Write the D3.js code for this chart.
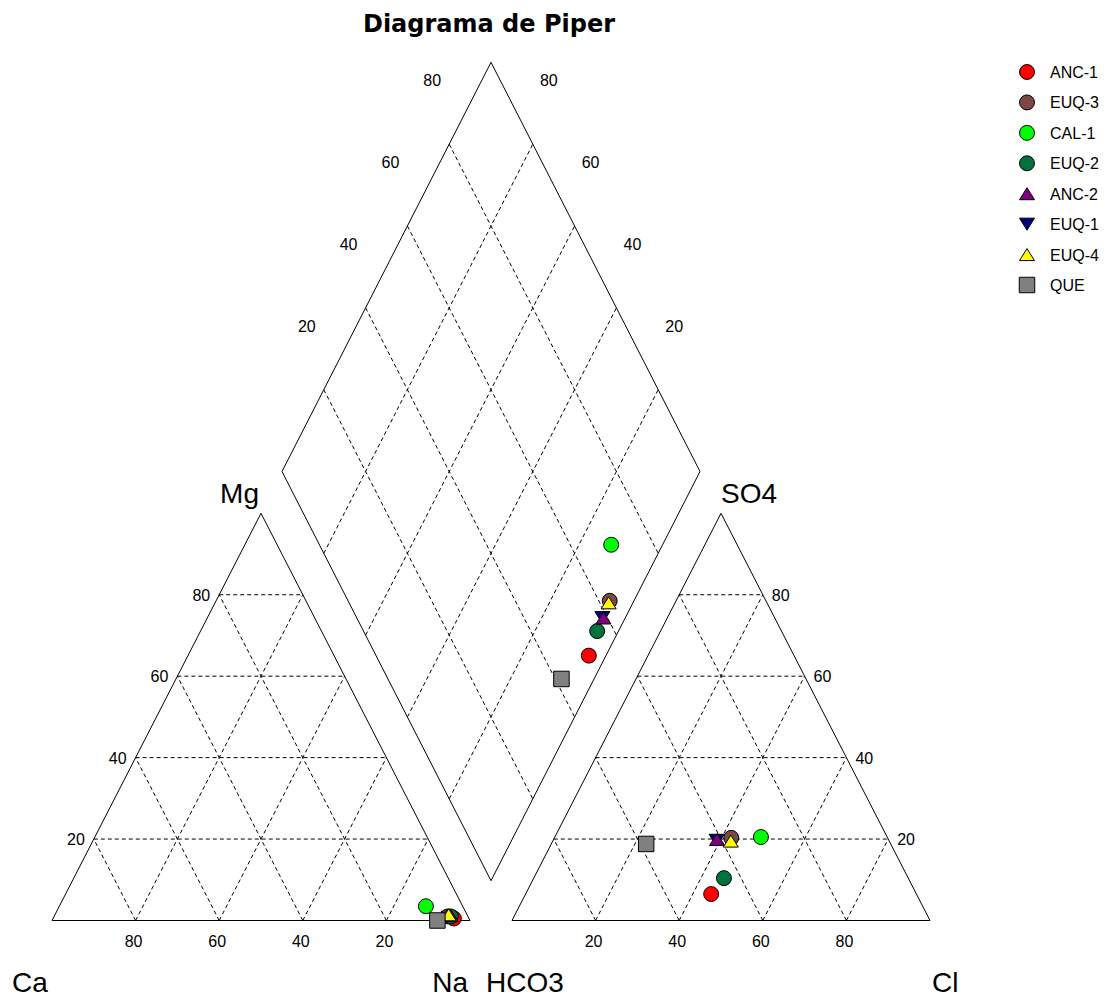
<!DOCTYPE html>
<html><head><meta charset="utf-8">
<script src="https://cdn.jsdelivr.net/npm/d3@7"></script>
<style>
html,body{margin:0;padding:0;background:#fff;}
svg{display:block;}
text{font-family:"Liberation Sans",Arial,sans-serif;fill:#000;}
</style></head><body>
<svg id="chart" width="1119" height="999"></svg>
<script>
// ---------- data (percent of meq) ----------
const samples  = ["ANC-1","EUQ-3","CAL-1","EUQ-2","ANC-2","EUQ-1","EUQ-4","QUE"];
const caPct    = [3.6, 4.8, 8.8, 4.1, 4.0, 4.7, 4.4, 7.8];
const mgPct    = [0.5, 1.0, 3.5, 1.0, 1.2, 0.8, 1.4, 0.0];
const naPct    = [95.9, 94.2, 87.7, 94.9, 94.8, 94.5, 94.2, 92.2];
const hco3Pct  = [49.1, 37.4, 30.2, 44.1, 41.0, 41.2, 37.9, 58.5];
const so4Pct   = [6.5, 20.3, 20.5, 10.4, 19.9, 19.7, 19.5, 18.8];
const clPct    = [44.4, 42.3, 49.3, 45.5, 39.1, 39.1, 42.6, 22.7];
const sampleColors = ["#ff0000","#7b4843","#00ff00","#00723d","#800080","#000080","#ffff00","#808080"];
const sampleShapes = ["circle","circle","circle","circle","triangle","triangleDown","triangle","square"];
const drawOrder = [5, 0, 1, 2, 3, 4, 6, 7];   // EUQ-1 sits underneath the others
const gridTicks = [20, 40, 60, 80];
const cationNames = {ca:"Ca", mg:"Mg", na:"Na"};
const anionNames = {hco3:"HCO3", so4:"SO4", cl:"Cl"};
const chartTitle = "Diagrama de Piper";

// ---------- geometry ----------
const GAP = 0.1005;
const x  = d3.scaleLinear().domain([0, 1]).range([52, 470]);
const y  = d3.scaleLinear().domain([0, 1]).range([920.5, 513.3]);
const yD = d3.scaleLinear().domain([GAP, 2 + GAP]).range([880.7, 62.3]);

function cationPt(ca, mg, na) { const s = ca + mg + na; return [x(na / s + mg / s / 2), y(mg / s)]; }
function anionPt(hco3, so4, cl) { const s = hco3 + so4 + cl; return [x(1 + GAP + cl / s + so4 / s / 2), y(so4 / s)]; }
// n = Na fraction, k = (Cl+SO4) fraction
function diamondPt(n, k) { const u = (n + 1 + GAP + k) / 2, v = 1 + GAP + k - n; return [x(u), yD(v)]; }

const svg = d3.select("#chart");
const line = d3.line();

const gGrid = svg.append("g").attr("fill", "none").attr("stroke", "#000").attr("stroke-width", 1).attr("stroke-dasharray", "4,3");
const gFrame = svg.append("g").attr("fill", "none").attr("stroke", "#000").attr("stroke-width", 1);

function seg(g, a, b) { g.append("path").attr("d", line([a, b])); }

// grid lines
gridTicks.forEach(t => {
  const p = t / 100, q = 1 - p;
  seg(gGrid, cationPt(q, p, 0), cationPt(0, p, q));   // Mg
  seg(gGrid, cationPt(p, 0, q), cationPt(p, q, 0));   // Ca
  seg(gGrid, cationPt(q, 0, p), cationPt(0, q, p));   // Na
  seg(gGrid, anionPt(q, p, 0), anionPt(0, p, q));     // SO4
  seg(gGrid, anionPt(q, 0, p), anionPt(0, q, p));     // Cl
  seg(gGrid, anionPt(p, 0, q), anionPt(p, q, 0));     // HCO3
  seg(gGrid, diamondPt(0, p), diamondPt(1, p));
  seg(gGrid, diamondPt(p, 0), diamondPt(p, 1));
});

// frames
gFrame.append("path").attr("d", line([cationPt(1,0,0), cationPt(0,0,1), cationPt(0,1,0)]) + "Z");
gFrame.append("path").attr("d", line([anionPt(1,0,0), anionPt(0,0,1), anionPt(0,1,0)]) + "Z");
gFrame.append("path").attr("d", line([diamondPt(1,0), diamondPt(1,1), diamondPt(0,1), diamondPt(0,0)]) + "Z");

// tick labels
const gTick = svg.append("g").attr("font-size", 16);
gridTicks.forEach(t => {
  const p = t / 100, q = 1 - p;
  let pt;
  pt = cationPt(p, 0, q);  // Ca along base
  gTick.append("text").attr("x", pt[0] - 2).attr("y", pt[1] + 26).attr("text-anchor", "middle").text(t);
  pt = cationPt(q, p, 0);  // Mg along left edge
  gTick.append("text").attr("x", pt[0] - 9).attr("y", pt[1] + 6).attr("text-anchor", "end").text(t);
  pt = anionPt(q, 0, p);   // Cl along base
  gTick.append("text").attr("x", pt[0] - 2).attr("y", pt[1] + 26).attr("text-anchor", "middle").text(t);
  pt = anionPt(0, p, q);   // SO4 along right edge
  gTick.append("text").attr("x", pt[0] + 9).attr("y", pt[1] + 6).attr("text-anchor", "start").text(t);
  pt = diamondPt(0, p);    // SO4+Cl along upper-left edge
  gTick.append("text").attr("x", pt[0] - 17).attr("y", pt[1] - 64 + 6).attr("text-anchor", "middle").text(t);
  pt = diamondPt(1 - p, 1);// Ca+Mg along upper-right edge
  gTick.append("text").attr("x", pt[0] + 16).attr("y", pt[1] - 64 + 6).attr("text-anchor", "middle").text(t);
});

// axis names
const gAx = svg.append("g").attr("font-size", 28);
const apexL = cationPt(0,1,0), baseL0 = cationPt(1,0,0), baseL1 = cationPt(0,0,1);
const apexR = anionPt(0,1,0), baseR0 = anionPt(1,0,0), baseR1 = anionPt(0,0,1);
gAx.append("text").attr("x", apexL[0] - 2).attr("y", apexL[1] - 10).attr("text-anchor", "end").text(cationNames.mg);
gAx.append("text").attr("x", apexR[0]).attr("y", apexR[1] - 10).attr("text-anchor", "start").text(anionNames.so4);
gAx.append("text").attr("x", baseL0[0] - 40).attr("y", 992).attr("text-anchor", "start").text(cationNames.ca);
gAx.append("text").attr("x", baseL1[0] - 2).attr("y", 992).attr("text-anchor", "end").text(cationNames.na);
gAx.append("text").attr("x", baseR0[0] - 26).attr("y", 992).attr("text-anchor", "start").text(anionNames.hco3);
gAx.append("text").attr("x", baseR1[0] + 2).attr("y", 992).attr("text-anchor", "start").text(anionNames.cl);

// title
svg.append("text").attr("x", 489).attr("y", 32).attr("text-anchor", "middle")
  .style("font-family", "'DejaVu Sans',sans-serif").attr("font-weight", "bold").attr("font-size", 24).text(chartTitle);

// symbols
const triUp = { draw(ctx, size) { const w = Math.sqrt(size); ctx.moveTo(0, -w*0.4); ctx.lineTo(w/2, w*0.4); ctx.lineTo(-w/2, w*0.4); ctx.closePath(); } };
const triDown = { draw(ctx, size) { const w = Math.sqrt(size); ctx.moveTo(0, w*0.4); ctx.lineTo(w/2, -w*0.4); ctx.lineTo(-w/2, -w*0.4); ctx.closePath(); } };
const shapeMap = {
  circle: d3.symbol().type(d3.symbolCircle).size(Math.PI * 56),
  square: d3.symbol().type(d3.symbolSquare).size(240),
  triangle: d3.symbol().type(triUp).size(225),
  triangleDown: d3.symbol().type(triDown).size(225)
};

const rows = samples.map((s, i) => ({
  name: s, color: sampleColors[i], shape: sampleShapes[i],
  c: cationPt(caPct[i], mgPct[i], naPct[i]),
  a: anionPt(hco3Pct[i], so4Pct[i], clPct[i]),
  d: diamondPt(naPct[i] / (caPct[i] + mgPct[i] + naPct[i]), (so4Pct[i] + clPct[i]) / (hco3Pct[i] + so4Pct[i] + clPct[i]))
}));
const ordered = drawOrder.map(i => rows[i]);

const gPts = svg.append("g").attr("stroke", "#000").attr("stroke-width", 1);
["c", "a", "d"].forEach(key => {
  gPts.selectAll(null).data(ordered).join("path")
    .attr("d", r => shapeMap[r.shape]())
    .attr("transform", r => `translate(${r[key][0]},${r[key][1]})`)
    .attr("fill", r => r.color);
});

// legend
const legendY = d3.scaleLinear().domain([0, samples.length - 1]).range([72, 285]);
const gLeg = svg.append("g");
rows.forEach((r, i) => {
  gLeg.append("path").attr("d", shapeMap[r.shape]())
    .attr("transform", `translate(1027,${legendY(i)})`)
    .attr("fill", r.color).attr("stroke", "#000").attr("stroke-width", 1);
  gLeg.append("text").attr("x", 1050).attr("y", legendY(i) + 6).attr("font-size", 16).text(r.name);
});
</script>
</body></html>
